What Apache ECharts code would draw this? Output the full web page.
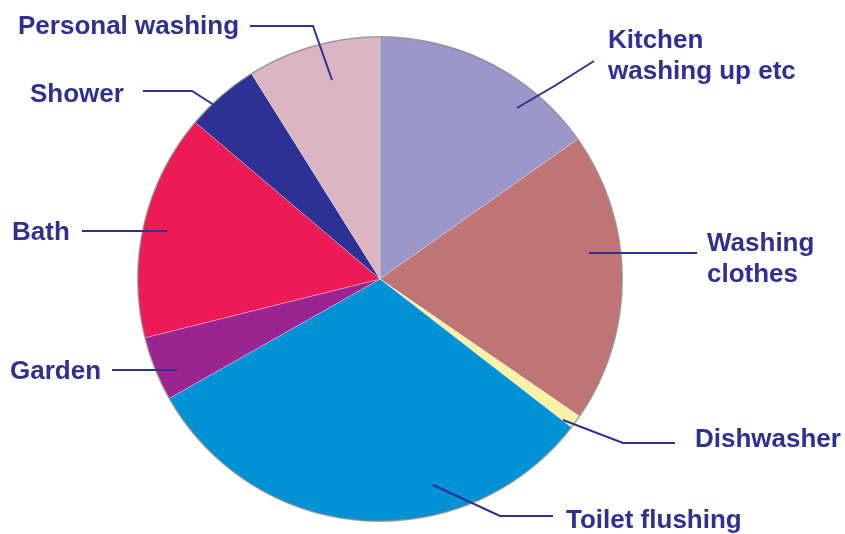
<!DOCTYPE html>
<html>
<head>
<meta charset="utf-8">
<script src="https://cdn.jsdelivr.net/npm/echarts@6/dist/echarts.min.js"></script>
<style>
  html, body { margin: 0; padding: 0; background: #fff; }
  #chart { width: 845px; height: 534px; }
</style>
</head>
<body>
<div id="chart"></div>
<script>
// household water use, clockwise from 12 o'clock (percent)
const categories = ['Kitchen washing up etc', 'Washing clothes', 'Dishwasher', 'Toilet flushing',
                    'Garden', 'Bath', 'Shower', 'Personal washing'];
const labels = ['Kitchen\nwashing up etc', 'Washing\nclothes', 'Dishwasher', 'Toilet flushing',
                'Garden', 'Bath', 'Shower', 'Personal washing'];
const values = [15.2, 19.4, 0.9, 31.3, 4.3, 15.1, 4.9, 8.9];
const colors = ['#9b97c9', '#bf7475', '#fbf2a6', '#0192d6', '#9a2591', '#ec1b56', '#2d3193', '#dcb5c3'];

// where each label sits (left / middle) and its guide line: [inside slice, bend, at label]
const labelAt = [[608, 56], [707, 259], [695, 440], [566, 521], [10, 372], [12, 233], [30, 95], [18, 27]];
const guides = [
    [[517, 108], [556, 85], [594, 61]],
    [[589, 253], [643, 253], [697, 253]],
    [[563, 420], [623, 443], [675, 443]],
    [[433, 485], [500, 516], [553, 516]],
    [[177, 370], [144, 370], [112, 370]],
    [[167, 231], [124, 231], [82, 231]],
    [[214, 105], [192, 91], [143, 91]],
    [[332, 80], [313, 26], [250, 26]]
];

const CENTER = [380, 279];
const R = 242;

const chart = echarts.init(document.getElementById('chart'), null, { renderer: 'canvas' });

const pieData = categories.map((name, i) => ({ name, value: values[i] }));

chart.setOption({
    animation: false,
    backgroundColor: '#ffffff',
    series: [
        {
            type: 'pie',
            z: 2,
            center: CENTER,
            radius: R,
            startAngle: 90,
            clockwise: true,
            itemStyle: { borderColor: 'rgba(255,255,255,0.35)', borderWidth: 0.8 },
            label: { show: false },
            labelLine: { show: false },
            emphasis: { disabled: true },
            data: pieData.map((d, i) => ({ ...d, itemStyle: { color: colors[i] } }))
        },
        {
            // thin grey rim round the pie
            type: 'pie',
            z: 3,
            center: CENTER,
            radius: [R - 0.5, R + 1],
            silent: true,
            label: { show: false },
            labelLine: { show: false },
            itemStyle: { color: 'rgba(90,90,90,0.55)' },
            data: [{ value: 1 }]
        },
        {
            // same slices, transparent, only to carry labels + guide lines above the pie
            type: 'pie',
            z: 4,
            center: CENTER,
            radius: R,
            startAngle: 90,
            clockwise: true,
            silent: true,
            avoidLabelOverlap: false,
            itemStyle: { color: 'rgba(0,0,0,0)' },
            label: {
                show: true,
                position: 'outside',
                formatter: p => labels[p.dataIndex],
                color: '#2e3192',
                fontFamily: 'Liberation Sans, Arial, sans-serif',
                fontWeight: 'bold',
                fontSize: 26,
                lineHeight: 31
            },
            labelLine: { show: true, lineStyle: { color: '#2e3192', width: 2 } },
            labelLayout: p => ({
                x: labelAt[p.dataIndex][0],
                y: labelAt[p.dataIndex][1],
                align: 'left',
                verticalAlign: 'middle',
                labelLinePoints: guides[p.dataIndex]
            }),
            emphasis: { disabled: true },
            data: pieData
        }
    ]
});
</script>
</body>
</html>
